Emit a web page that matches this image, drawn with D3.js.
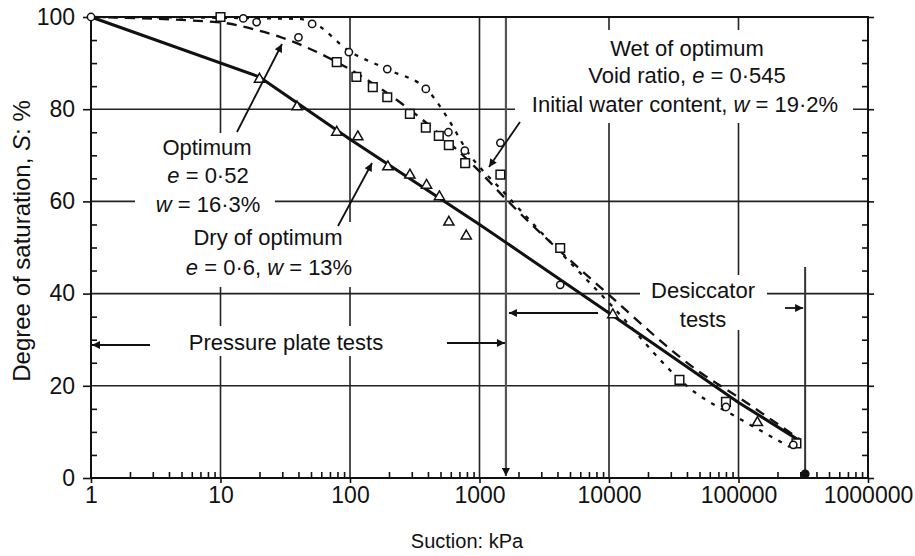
<!DOCTYPE html>
<html>
<head>
<meta charset="utf-8">
<script src="https://cdn.jsdelivr.net/npm/d3@7"></script>
<style>
  body { margin: 0; background: #fff; }
  text { font-family: "Liberation Sans", Arial, Helvetica, sans-serif; fill: #111; }
</style>
</head>
<body>
<svg id="chart" width="915" height="556"></svg>
<script>
// ---- data -------------------------------------------------------------
const suctionTicks = [1, 10, 100, 1000, 10000, 100000, 1000000];
const suctionTickLabels = ["1", "10", "100", "1000", "10000", "100000", "1000000"];
const saturationTicks = [0, 20, 40, 60, 80, 100];
const saturationTickLabels = ["0", "20", "40", "60", "80", "100"];

// drying curves: [suction kPa, degree of saturation %]
const dryCurve = [[1, 100], [20, 87], [100, 73.5], [1000, 55], [10000, 35.8], [100000, 16.4], [300000, 8]];
const optimumCurve = [[1, 100], [10, 98.8], [20, 97], [30, 95.5], [70, 91], [1000, 66.5], [1600, 60.5],
                      [10000, 39.7], [50000, 23], [100000, 17.5], [300000, 8.3]];
const wetCurve = [[1, 100], [40, 99.6], [50, 99], [100, 92.5], [200, 88.5], [400, 84], [570, 78], [800, 71],
                  [1600, 61.5], [10000, 38], [46000, 18.6], [100000, 13], [250000, 6.7]];

// measured points
const dryPoints = [[20, 86.5], [39, 80.5], [79, 75], [115, 74], [196, 67.5], [290, 65.7], [390, 63.5],
                   [490, 61], [580, 55.5], [790, 52.5], [10700, 35.4], [140000, 12]];
const optimumPoints = [[10, 100], [79, 90.2], [112, 87], [150, 84.8], [194, 82.6], [290, 79], [385, 76],
                       [485, 74.2], [580, 72.2], [775, 68.3], [1450, 65.8], [4200, 49.9], [35000, 21.3],
                       [80000, 16.5], [280000, 7.5]];
const wetPoints = [[1, 100], [15, 99.7], [19, 98.9], [40, 95.6], [51, 98.5], [98, 92.4], [194, 88.7],
                   [385, 84.4], [575, 75], [770, 71], [1450, 72.7], [4200, 41.9], [80000, 15.4], [265000, 7.2]];

// test range limits (kPa)
const pressurePlateLimit = 1600;
const desiccatorLimit = 327000;

// ---- layout -----------------------------------------------------------
const svg = d3.select("#chart");
const plotLeft = 91, plotRight = 868, plotTop = 17, plotBottom = 478;

const x = d3.scaleLog().domain([1, 1e6]).range([plotLeft, plotRight]);
const y = d3.scaleLinear().domain([0, 100]).range([plotBottom, plotTop]);

const ink = "#111";

svg.append("defs").append("marker")
  .attr("id", "head")
  .attr("viewBox", "0 0 10 10")
  .attr("refX", 10).attr("refY", 5)
  .attr("markerWidth", 12).attr("markerHeight", 8)
  .attr("markerUnits", "userSpaceOnUse")
  .attr("orient", "auto")
  .append("path").attr("d", "M0,0 L10,5 L0,10 Z").attr("fill", ink);

// grid
const grid = svg.append("g").attr("stroke", "#222").attr("stroke-width", 1.6);
grid.selectAll("line.v").data(suctionTicks.slice(1, -1)).join("line")
  .attr("x1", d => x(d)).attr("x2", d => x(d)).attr("y1", plotTop).attr("y2", plotBottom);
grid.selectAll("line.h").data(saturationTicks.slice(1, -1)).join("line")
  .attr("x1", plotLeft).attr("x2", plotRight).attr("y1", d => y(d)).attr("y2", d => y(d));

// pressure plate / desiccator limits
svg.append("line")
  .attr("x1", x(pressurePlateLimit)).attr("x2", x(pressurePlateLimit))
  .attr("y1", plotTop).attr("y2", plotBottom - 2)
  .attr("stroke", "#555").attr("stroke-width", 2.2).attr("marker-end", "url(#head)");
svg.append("line")
  .attr("x1", x(desiccatorLimit)).attr("x2", x(desiccatorLimit))
  .attr("y1", 267).attr("y2", plotBottom)
  .attr("stroke", "#333").attr("stroke-width", 2);
svg.append("circle").attr("cx", x(desiccatorLimit)).attr("cy", plotBottom - 4).attr("r", 4.5).attr("fill", ink);

// white panels behind the annotation blocks
const panels = [
  [515, 30, 338, 93],
  [135, 133, 140, 89],
  [175, 222, 188, 65],
  [172, 326, 228, 30],
  [640, 275, 127, 55]
];
svg.append("g").selectAll("rect").data(panels).join("rect")
  .attr("x", d => d[0]).attr("y", d => d[1]).attr("width", d => d[2]).attr("height", d => d[3])
  .attr("fill", "#fff");

// frame
svg.append("rect").attr("x", plotLeft).attr("y", plotTop)
  .attr("width", plotRight - plotLeft).attr("height", plotBottom - plotTop)
  .attr("fill", "none").attr("stroke", ink).attr("stroke-width", 2);

// axes
const minorX = [];
for (let p = 0; p < 6; p++) for (let m = 2; m <= 9; m++) minorX.push(m * Math.pow(10, p));
const minorY = d3.range(5, 100, 5).filter(v => v % 20 !== 0);

const xAxis = svg.append("g").attr("transform", `translate(0,${plotBottom})`)
  .call(d3.axisBottom(x).tickValues(suctionTicks).tickFormat((d, i) => suctionTickLabels[i]).tickSize(5).tickPadding(4));
const xMinor = svg.append("g").attr("transform", `translate(0,${plotBottom})`)
  .call(d3.axisBottom(x).tickValues(minorX).tickFormat("").tickSize(-6));
const yAxis = svg.append("g").attr("transform", `translate(${plotLeft},0)`)
  .call(d3.axisLeft(y).tickValues(saturationTicks).tickFormat((d, i) => saturationTickLabels[i]).tickSize(8).tickPadding(8));
const yMinor = svg.append("g").attr("transform", `translate(${plotLeft},0)`)
  .call(d3.axisLeft(y).tickValues(minorY).tickFormat("").tickSize(-6));
const yRight = svg.append("g").attr("transform", `translate(${plotRight},0)`)
  .call(d3.axisRight(y).tickValues(saturationTicks).tickFormat("").tickSize(6));
const yRightMinor = svg.append("g").attr("transform", `translate(${plotRight},0)`)
  .call(d3.axisRight(y).tickValues(minorY).tickFormat("").tickSize(-6));

[xAxis, xMinor, yAxis, yMinor, yRight, yRightMinor].forEach(g => {
  g.select(".domain").remove();
  g.selectAll("line").attr("stroke", ink).attr("stroke-width", 1.6);
  g.selectAll("text").attr("font-size", 23).attr("fill", ink)
    .style("font-family", '"Liberation Sans", Arial, sans-serif');
});

// curves
const smooth = d3.line().x(d => x(d[0])).y(d => y(d[1])).curve(d3.curveMonotoneX);
const straight = d3.line().x(d => x(d[0])).y(d => y(d[1]));
svg.append("path").datum(wetCurve).attr("d", smooth)
  .attr("fill", "none").attr("stroke", ink).attr("stroke-width", 2.3).attr("stroke-dasharray", "4,7");
svg.append("path").datum(optimumCurve).attr("d", smooth)
  .attr("fill", "none").attr("stroke", ink).attr("stroke-width", 2.3).attr("stroke-dasharray", "10,7");
svg.append("path").datum(dryCurve).attr("d", straight)
  .attr("fill", "none").attr("stroke", ink).attr("stroke-width", 3).attr("stroke-linejoin", "round");

// point symbols
const sym = (type, size) => d3.symbol().type(type).size(size);
const drawPoints = (data, type, size) =>
  svg.append("g").selectAll("path").data(data).join("path")
    .attr("transform", d => `translate(${x(d[0])},${y(d[1])})`)
    .attr("d", sym(type, size))
    .attr("fill", "#fff").attr("stroke", ink).attr("stroke-width", 1.5);
drawPoints(dryPoints, d3.symbolTriangle, 45);
drawPoints(optimumPoints, d3.symbolSquare, 75);
drawPoints(wetPoints, d3.symbolCircle, 42);

// leader arrows
const arrows = [
  [[237, 132], [282, 44]],
  [[338, 226], [372, 163]],
  [[520, 122], [489, 167]],
  [[150, 345], [x(1) + 1, 345]],
  [[447, 343], [x(pressurePlateLimit) - 1, 343]],
  [[598, 313], [x(pressurePlateLimit) + 3, 313]],
  [[785, 308], [x(desiccatorLimit) - 2, 308]]
];
svg.append("g").selectAll("line").data(arrows).join("line")
  .attr("x1", d => d[0][0]).attr("y1", d => d[0][1])
  .attr("x2", d => d[1][0]).attr("y2", d => d[1][1])
  .attr("stroke", ink).attr("stroke-width", 1.8).attr("marker-end", "url(#head)");

// annotation text
const note = (tx, ty, parts, size = 22) => {
  const t = svg.append("text").attr("x", tx).attr("y", ty).attr("text-anchor", "middle").attr("font-size", size);
  parts.forEach(p => {
    const s = t.append("tspan").text(p[0]);
    if (p[1]) s.attr("font-style", "italic");
  });
};
note(687, 56, [["Wet of optimum"]]);
note(687, 83, [["Void ratio, "], ["e", 1], [" = 0·545"]]);
note(685, 112, [["Initial water content, "], ["w", 1], [" = 19·2%"]]);
note(207, 155, [["Optimum"]]);
note(208, 183, [["e", 1], [" = 0·52"]]);
note(208, 212, [["w", 1], [" = 16·3%"]]);
note(268, 245, [["Dry of optimum"]]);
note(269, 275, [["e", 1], [" = 0·6, "], ["w", 1], [" = 13%"]]);
note(286, 350, [["Pressure plate tests"]]);
note(703, 298, [["Desiccator"]]);
note(703, 327, [["tests"]]);

// axis titles
svg.append("text").attr("x", 467).attr("y", 548).attr("text-anchor", "middle").attr("font-size", 20)
  .text("Suction: kPa");
const yt = svg.append("text").attr("transform", "translate(30,241) rotate(-90)")
  .attr("text-anchor", "middle").attr("font-size", 24);
yt.append("tspan").text("Degree of saturation, ");
yt.append("tspan").attr("font-style", "italic").text("S");
yt.append("tspan").text(": %");
</script>
</body>
</html>
